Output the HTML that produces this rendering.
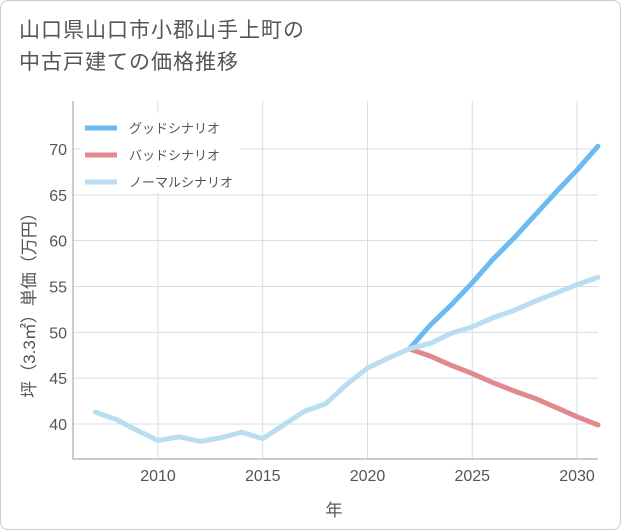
<!DOCTYPE html>
<html><head><meta charset="utf-8">
<style>
html,body{margin:0;padding:0;background:#fff;}
#wrap{position:relative;width:619px;height:528px;border:1px solid #ccc;border-radius:8px;overflow:hidden;font-family:"Liberation Sans","Noto Sans CJK JP",sans-serif;}
#title{position:absolute;left:18px;top:14px;font-size:21px;line-height:32px;color:#555;letter-spacing:1px;}
svg{position:absolute;left:0;top:0;}
</style></head><body>
<div id="wrap">
<div id="title">山口県山口市小郡山手上町の<br>中古戸建ての価格推移</div>
<svg id="chart" width="621" height="530"></svg>
</div>
<script>
const years=[2007,2008,2009,2010,2011,2012,2013,2014,2015,2016,2017,2018,2019,2020,2021,2022,2023,2024,2025,2026,2027,2028,2029,2030,2031];
const normalValues=[41.3,40.5,39.3,38.2,38.6,38.1,38.5,39.1,38.4,39.9,41.4,42.2,44.3,46.1,47.2,48.2,48.8,49.9,50.6,51.6,52.4,53.4,54.3,55.2,56.0];
const futureYears=[2022,2023,2024,2025,2026,2027,2028,2029,2030,2031];
const goodValues=[48.2,50.8,53.0,55.4,58.0,60.3,62.8,65.3,67.7,70.3];
const badValues=[48.2,47.4,46.4,45.5,44.5,43.6,42.8,41.8,40.8,39.9];
const xTicks=[2010,2015,2020,2025,2030];
const yTicks=[40,45,50,55,60,65,70];
const NS="http://www.w3.org/2000/svg";
const svg=document.getElementById('chart');
const L=72,R=597,T=100,B=458;
const x=v=>157+(v-2010)*(576-157)/20;
const y=v=>423-(v-40)*(423-148)/30;
function mk(tag,attrs,parent){const e=document.createElementNS(NS,tag);for(const k in attrs)e.setAttribute(k,attrs[k]);(parent||svg).appendChild(e);return e;}
const grid=mk('g',{});


for(const t of yTicks){
  const l=mk('line',{x1:L,x2:R,y1:y(t),y2:y(t),stroke:'#d5dde6','stroke-width':1},grid);
  
  
  const tx=mk('text',{x:L-6,y:y(t)+6,'text-anchor':'end','font-size':16,fill:'#555'});
  tx.textContent=t;
  
  
}
for(const t of xTicks){
  const l=mk('line',{x1:x(t),x2:x(t),y1:T,y2:B,stroke:'#d5dde6','stroke-width':1},grid);
  
  
  const tx=mk('text',{x:x(t),y:B+22,'text-anchor':'middle','font-size':16,fill:'#555'});
  tx.textContent=t;
  
  
}
const ax=mk('path',{d:`M${L},${T}V${B}H${R}`,fill:'none',stroke:'#999','stroke-width':1});


function line(xs,vs,color,name){
  const p=mk('polyline',{points:xs.map((v,i)=>x(v)+','+y(vs[i])).join(' '),fill:'none',stroke:color,'stroke-width':5,'stroke-linejoin':'round','stroke-linecap':'round'});
  
  
}
line(futureYears,goodValues,'#6bbbf0','good-scenario-line');
line(futureYears,badValues,'#e08a8e','bad-scenario-line');
line(years,normalValues,'#b9def0','normal-scenario-line');
const lg=[['グッドシナリオ','#6bbbf0'],['バッドシナリオ','#e08a8e'],['ノーマルシナリオ','#b9def0']];
lg.forEach((d,i)=>{
  const g=mk('g',{});
  
  
  const yy=127+i*27;
  mk('rect',{x:80,y:yy-15,width:160,height:26,fill:'#fff'},g);
  mk('line',{x1:84,x2:116,y1:yy,y2:yy,stroke:d[1],'stroke-width':5},g);
  const t=mk('text',{x:128,y:yy+5,'font-size':13,fill:'#555'},g);t.textContent=d[0];
});
const yt=mk('text',{x:0,y:0,transform:'translate(34,300) rotate(-90)','text-anchor':'middle','font-size':17,fill:'#555'});
yt.textContent='坪（3.3㎡）単価（万円）';


const xt=mk('text',{x:333,y:515,'text-anchor':'middle','font-size':17,fill:'#555'});
xt.textContent='年';


</script>
</body></html>
